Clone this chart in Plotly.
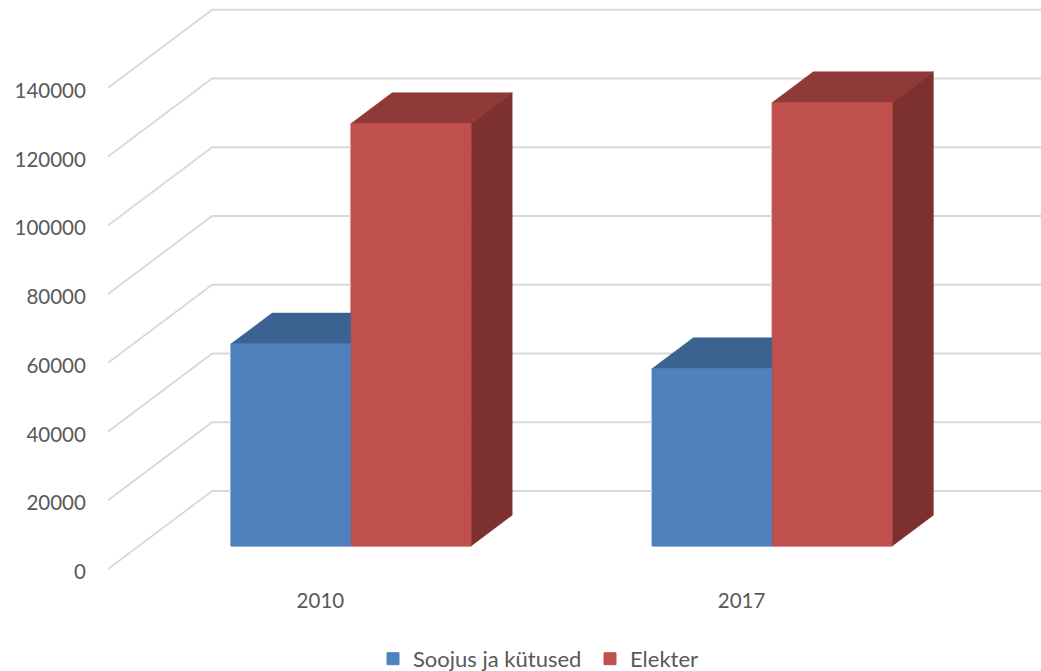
import plotly.graph_objects as go

categories = ["2010", "2017"]
soojus = [58800, 51600]
elekter = [122900, 129000]
y_ticks = [0, 20000, 40000, 60000, 80000, 100000, 120000, 140000]

# oblique projection of the depth axis, in axis units
DX = 0.247
DY = 22690
D_FRONT = 0.295
D_BACK = 0.69
BAR_W = 0.285
X_LEFT = -0.504
X_RIGHT = 1.8

GRID = "#D9D9D9"
BLUE, BLUE_TOP, BLUE_SIDE = "#4F81BD", "#3B6290", "#2F4F75"
RED, RED_TOP, RED_SIDE = "#C0504D", "#8F3A38", "#7C3130"
TEXT = "#595959"
FONT = "Lato"


def pt(x, value, depth):
    return x + depth * DX, value + depth * DY


def poly(corners, color):
    xs = [c[0] for c in corners] + [corners[0][0]]
    ys = [c[1] for c in corners] + [corners[0][1]]
    return go.Scatter(x=xs, y=ys, mode="lines", fill="toself", fillcolor=color,
                      line=dict(color=color, width=0.5), showlegend=False,
                      hoverinfo="skip")


fig = go.Figure()
base = D_FRONT * DY
idx = list(range(len(categories)))

# real bars: they carry the legend and lie under the drawn faces
fig.add_trace(go.Bar(name="Soojus ja kütused", x=[i + D_FRONT * DX - BAR_W / 2 for i in idx],
                     y=soojus, base=[base] * 2, width=BAR_W, marker_color=BLUE,
                     marker_line=dict(color=BLUE, width=1)))
fig.add_trace(go.Bar(name="Elekter", x=[i + D_FRONT * DX + BAR_W / 2 for i in idx],
                     y=elekter, base=[base] * 2, width=BAR_W, marker_color=RED,
                     marker_line=dict(color=RED, width=1)))

# wall and floor gridlines
for v in y_ticks:
    fig.add_trace(go.Scatter(x=[X_LEFT, X_LEFT + DX, X_RIGHT], y=[v, v + DY, v + DY],
                             mode="lines", line=dict(color=GRID, width=1.8),
                             showlegend=False, hoverinfo="skip"))


def box(x0, x1, value, front, top, side):
    traces = [
        poly([pt(x0, value, D_FRONT), pt(x1, value, D_FRONT), pt(x1, value, D_BACK), pt(x0, value, D_BACK)], top),
        poly([pt(x1, 0, D_FRONT), pt(x1, 0, D_BACK), pt(x1, value, D_BACK), pt(x1, value, D_FRONT)], side),
        poly([pt(x0, 0, D_FRONT), pt(x1, 0, D_FRONT), pt(x1, value, D_FRONT), pt(x0, value, D_FRONT)], front),
    ]
    fig.add_traces(traces)


for i in idx:
    box(i - BAR_W, i, soojus[i], BLUE, BLUE_TOP, BLUE_SIDE)
    box(i, i + BAR_W, elekter[i], RED, RED_TOP, RED_SIDE)

fig.update_layout(
    width=1041, height=671, autosize=False,
    margin=dict(l=106, r=0, t=4, b=96),
    plot_bgcolor="white", paper_bgcolor="white",
    barmode="overlay",
    font=dict(family=FONT, size=20.5, color=TEXT),
    legend=dict(orientation="h", x=373 / 1041, xref="container", xanchor="left",
                y=0.018, yref="container", yanchor="middle",
                entrywidth=172, entrywidthmode="pixels",
                font=dict(size=22, color=TEXT), bgcolor="rgba(0,0,0,0)", itemclick=False),
    xaxis=dict(range=[-0.509, 1.711], tickvals=idx, ticktext=categories,
               showgrid=False, zeroline=False, showline=False,
               ticks="outside", ticklen=7, tickcolor="rgba(0,0,0,0)"),
    yaxis=dict(range=[-1745, 164364], tickvals=y_ticks, ticktext=[str(v) for v in y_ticks],
               showgrid=False, zeroline=False, showline=False,
               ticks="outside", ticklen=15, tickcolor="rgba(0,0,0,0)",
               ticklabelshift=3),
)

fig.write_html("out.html", config={"displayModeBar": False},
               post_script="document.body.style.margin='0';document.body.style.overflow='hidden';")
